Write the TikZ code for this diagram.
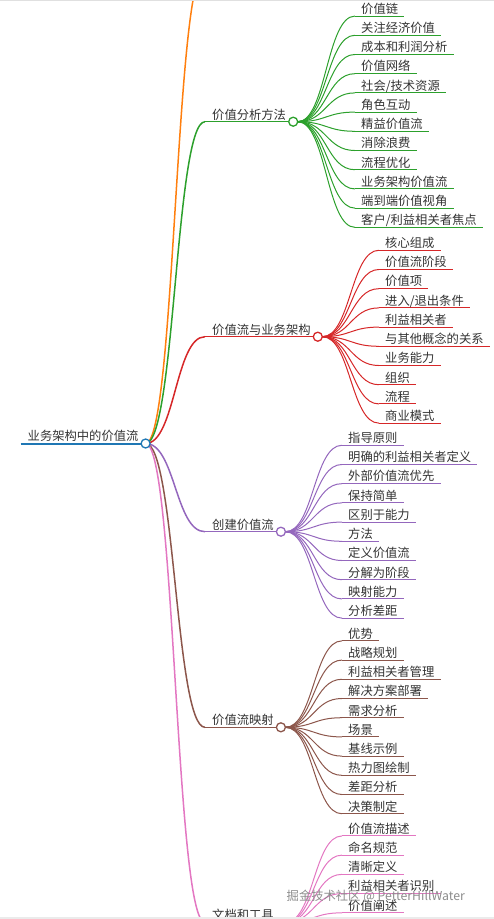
\documentclass[tikz,border=0pt]{standalone}
\usepackage{fontspec}
\setmainfont{Noto Sans CJK SC}
\usepackage{xcolor}
\usepackage{tikz}
\usetikzlibrary{calc, positioning}

\definecolor{mmblue}{HTML}{1F77B4}
\definecolor{mmorange}{HTML}{FF7F0E}
\definecolor{mmgreen}{HTML}{2CA02C}
\definecolor{mmred}{HTML}{D62728}
\definecolor{mmpurple}{HTML}{9467BD}
\definecolor{mmbrown}{HTML}{8C564B}
\definecolor{mmpink}{HTML}{E377C2}
\definecolor{mmtext}{HTML}{333333}

\pgfdeclarelayer{links}
\pgfsetlayers{links,main}

\tikzset{
  topic/.style={anchor=south west, inner xsep=7pt, inner ysep=1pt,
    text height=10pt, text depth=1.5pt,
    font=\fontsize{12.3}{14}\selectfont, text=mmtext},
  leaf/.style={topic, inner xsep=6pt},
  knob/.style={circle, draw=#1, fill=white, line width=1.3pt,
    inner sep=0pt, minimum size=9pt},
  stem/.style={#1, line width=1.5pt},
  twig/.style={#1, line width=1pt},
}

% horizontal S-link between two points
\newcommand\mmlink[3]{%
  \draw[#1] let \p1=(#2), \p2=(#3) in
    (\p1) .. controls ({(\x1+\x2)/2},\y1) and ({(\x1+\x2)/2},\y2) .. (\p2);}

\begin{document}
\begin{tikzpicture}[x=1pt, y=-1pt]
  \clip (0,0) rectangle (494,919);

  %--- root ---
  \node[topic] (root) at (20.5,443.5) {业务架构中的价值流};
  \draw[mmblue, line width=2pt] (root.south west) -- (root.south east);

  %--- first-level topics ---
  \coordinate (hidden) at (205,-31);
  \node[topic] (vam)  at (205,121.7) {价值分析方法};
  \node[topic] (vsba) at (205,336.7) {价值流与业务架构};
  \node[topic] (make) at (205,531.7) {创建价值流};
  \node[topic] (vsm)  at (205,727.3) {价值流映射};
  \node[topic] (docs) at (205,922.4) {文档和工具};

  \begin{pgfonlayer}{links}
    \mmlink{stem=mmorange}{root.south east}{hidden}
    \draw[stem=mmorange] (hidden) -- ++(80,0);
    \foreach \t/\c in {vam/mmgreen, vsba/mmred, make/mmpurple,
                       vsm/mmbrown, docs/mmpink} {
      \mmlink{stem=\c}{root.south east}{\t.south west}
      \draw[stem=\c] (\t.south west) -- (\t.south east);
    }
  \end{pgfonlayer}

  %--- leaves: value analysis methods ---
  \foreach \txt [count=\i from 0] in {价值链, 关注经济价值, 成本和利润分析,
      价值网络, 社会/技术资源, 角色互动, 精益价值流, 消除浪费, 流程优化,
      业务架构价值流, 端到端价值视角, 客户/利益相关者焦点} {
    \node[leaf] (vam-\i) at (355,{121.7+(\i-5.5)*19.21}) {\txt};
    \begin{pgfonlayer}{links}
      \mmlink{twig=mmgreen}{$(vam.south east)+(4.5,0)$}{vam-\i.south west}
      \draw[twig=mmgreen] (vam-\i.south west) -- (vam-\i.south east);
    \end{pgfonlayer}
  }

  %--- leaves: value streams and business architecture ---
  \foreach \txt [count=\i from 0] in {核心组成, 价值流阶段, 价值项,
      进入/退出条件, 利益相关者, 与其他概念的关系, 业务能力, 组织, 流程,
      商业模式} {
    \node[leaf] (vsba-\i) at (379,{336.7+(\i-4.5)*19.21}) {\txt};
    \begin{pgfonlayer}{links}
      \mmlink{twig=mmred}{$(vsba.south east)+(4.5,0)$}{vsba-\i.south west}
      \draw[twig=mmred] (vsba-\i.south west) -- (vsba-\i.south east);
    \end{pgfonlayer}
  }

  %--- leaves: creating value streams ---
  \foreach \txt [count=\i from 0] in {指导原则, 明确的利益相关者定义,
      外部价值流优先, 保持简单, 区别于能力, 方法, 定义价值流, 分解为阶段,
      映射能力, 分析差距} {
    \node[leaf] (make-\i) at (342,{531.7+(\i-4.5)*19.21}) {\txt};
    \begin{pgfonlayer}{links}
      \mmlink{twig=mmpurple}{$(make.south east)+(4.5,0)$}{make-\i.south west}
      \draw[twig=mmpurple] (make-\i.south west) -- (make-\i.south east);
    \end{pgfonlayer}
  }

  %--- leaves: value stream mapping ---
  \foreach \txt [count=\i from 0] in {优势, 战略规划, 利益相关者管理,
      解决方案部署, 需求分析, 场景, 基线示例, 热力图绘制, 差距分析,
      决策制定} {
    \node[leaf] (vsm-\i) at (342,{727.3+(\i-4.5)*19.21}) {\txt};
    \begin{pgfonlayer}{links}
      \mmlink{twig=mmbrown}{$(vsm.south east)+(4.5,0)$}{vsm-\i.south west}
      \draw[twig=mmbrown] (vsm-\i.south west) -- (vsm-\i.south east);
    \end{pgfonlayer}
  }

  %--- leaves: documentation and tools (cut at the bottom) ---
  \foreach \txt [count=\i from 0] in {价值流描述, 命名规范, 清晰定义,
      利益相关者识别, 价值阐述} {
    \node[leaf] (docs-\i) at (342,{922.4+(\i-4.5)*19.21}) {\txt};
    \begin{pgfonlayer}{links}
      \mmlink{twig=mmpink}{$(docs.south east)+(4.5,0)$}{docs-\i.south west}
      \draw[twig=mmpink] (docs-\i.south west) -- (docs-\i.south east);
    \end{pgfonlayer}
  }

  %--- knobs on top of the links ---
  \node[knob=mmblue]   (root-k) at (root.south east) {};
  \node[knob=mmgreen]  (vam-k)  at (vam.south east)  {};
  \node[knob=mmred]    (vsba-k) at (vsba.south east) {};
  \node[knob=mmpurple] (make-k) at (make.south east) {};
  \node[knob=mmbrown]  (vsm-k)  at (vsm.south east)  {};
  \node[knob=mmpink]   (docs-k) at (docs.south east) {};

  % watermark
  \node[anchor=west, inner sep=0pt, text=black!45,
    font=\fontsize{12.3}{14}\selectfont] (mark) at (286.5,896.5)
    {掘金技术社区 @ PetterHillWater};

  % frame strips
  \fill[black!12] (0,0) rectangle (494,1.3);
  \fill[black!8] (0,916.5) rectangle (494,919);
\end{tikzpicture}
\end{document}
